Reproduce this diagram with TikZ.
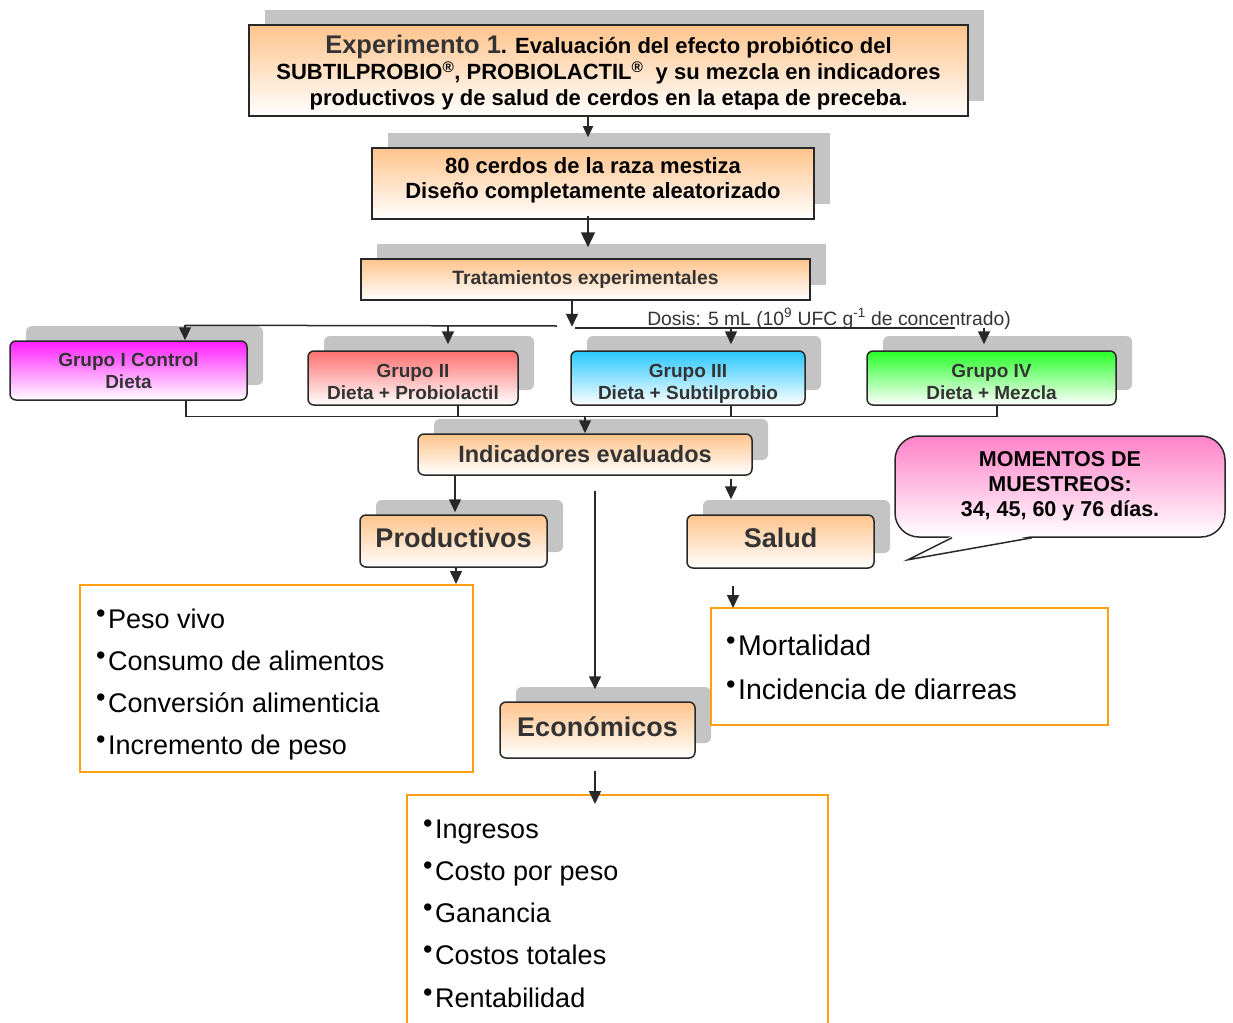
\documentclass[tikz,border=0pt]{standalone}
\usepackage{fontspec}
\setmainfont{Liberation Sans}
\usetikzlibrary{arrows.meta,shadows}
\definecolor{orgtop}{RGB}{255,196,140}
\definecolor{g1top}{RGB}{255,30,255}
\definecolor{g2top}{RGB}{255,112,112}
\definecolor{g3top}{RGB}{40,200,255}
\definecolor{g4top}{RGB}{40,255,40}
\definecolor{momtop}{RGB}{255,130,200}
\definecolor{shgray}{RGB}{196,196,196}
\definecolor{txt}{RGB}{51,51,51}
\definecolor{lorange}{RGB}{255,160,20}
\definecolor{lnc}{RGB}{40,40,40}
\newcommand\mybul{\makebox[12pt][l]{\raisebox{6pt}{\fontsize{27}{27}\selectfont •}}}
\tikzset{
  box/.style={draw=lnc, line width=1.5pt, top color=orgtop, bottom color=white,
    inner sep=0pt, align=center},
  sh/.style={general shadow={fill=shgray, shadow xshift=16pt, shadow yshift=15pt}},
  rbox/.style={box, rounded corners=6pt},
  lst/.style={draw=lorange, line width=2pt, inner sep=0pt},
  item/.style={anchor=base west, inner sep=0pt, font=\fontsize{27}{30}\selectfont},
  arr/.style={draw=lnc, line width=1.5pt, -{Triangle[length=13pt,width=12pt]}},
  arrbig/.style={draw=lnc, line width=1.5pt, -{Triangle[length=15pt,width=14pt]}},
  arrsm/.style={draw=lnc, line width=1.5pt, -{Triangle[length=11pt,width=10pt]}},
  ln/.style={draw=lnc, line width=1.5pt},
  grp/.style={rbox, sh, minimum height=54pt, text=txt,
    font=\fontsize{19}{22}\selectfont\bfseries},
  grplow/.style={grp, text height=42pt, text depth=0pt},
  big/.style={rbox, sh, text=txt, text height=20pt, text depth=8pt,
    font=\fontsize{27}{30}\selectfont\bfseries}
}
\begin{document}
\begin{tikzpicture}[x=1pt,y=-1pt]
\useasboundingbox (0,0) rectangle (1233,1022);
\clip (0,0) rectangle (1233,1022);
\fill[white] (0,0) rectangle (1233,1022);

% main boxes
\node[box, sh, minimum width=719pt, minimum height=91pt, text depth=0pt,
  font=\fontsize{22}{26}\selectfont\bfseries] (exp) at (608.5,70.5)
  {{\color{txt}\fontsize{25.5}{26}\selectfont Experimento 1}. Evaluación del efecto probiótico del\\
   SUBTILPROBIO\textsuperscript{®}, PROBIOLACTIL\textsuperscript{®}\ \ y su mezcla en indicadores\\
   productivos y de salud de cerdos en la etapa de preceba.};
\node[box, sh, minimum width=442pt, minimum height=71pt, text depth=10.5pt,
  font=\fontsize{22}{25}\selectfont\bfseries] (cer) at (593,183.5)
  {80 cerdos de la raza mestiza\\Diseño completamente aleatorizado};
\node[box, sh, minimum width=449pt, minimum height=41pt, text=txt,
  font=\fontsize{19.3}{22}\selectfont\bfseries] (tra) at (585.5,279.5)
  {Tratamientos experimentales};

% groups
\node[grp, minimum width=237pt, minimum height=59pt, top color=g1top] (g1) at (128.5,370.5)
  {Grupo I Control\\Dieta};
\node[grplow, minimum width=210pt, top color=g2top] (g2) at (413,378)
  {Grupo II\\Dieta + Probiolactil};
\node[grplow, minimum width=234pt, top color=g3top] (g3) at (688,378)
  {Grupo III\\Dieta + Subtilprobio};
\node[grplow, minimum width=249pt, top color=g4top] (g4) at (991.5,378)
  {Grupo IV\\Dieta + Mezcla};
\node[inner sep=0pt, text=txt, font=\fontsize{19.3}{21}\selectfont] (dos) at (829,319)
  {Dosis: 5 mL (10\textsuperscript{9} UFC g\textsuperscript{-1} de concentrado)};

% indicators
\node[rbox, sh, minimum width=334pt, minimum height=41pt, text=txt,
  font=\fontsize{23.5}{26}\selectfont\bfseries] (ind) at (585,454.5) {Indicadores evaluados};
\node[big, minimum width=187pt, minimum height=52pt] (pro) at (453.5,541) {Productivos};
\node[big, minimum width=187pt, minimum height=53pt] (sal) at (780.5,541.5) {Salud};
\node[big, minimum width=195pt, minimum height=56pt] (eco) at (597.5,730) {Económicos};

% callout
\node[draw=lnc, line width=1.5pt, rounded corners=24pt, top color=momtop, bottom color=white,
  minimum width=330pt, minimum height=101pt, inner sep=0pt, align=center,
  font=\fontsize{21.5}{25}\selectfont\bfseries] (mom) at (1060,486.5)
  {MOMENTOS DE\\MUESTREOS:\\ 34, 45, 60 y 76 días.};
\coordinate (tipL) at ([xshift=-108pt]mom.south);
\coordinate (tipR) at ([xshift=-28pt]mom.south);
\coordinate (tipP) at ([xshift=-152pt,yshift=-22pt]mom.south);
\fill[white] ([yshift=2pt]tipL) -- (tipP) -- ([yshift=2pt]tipR) -- cycle;
\draw[ln, line join=miter] (tipL) -- (tipP) -- (tipR);

% lists
\node[lst, minimum width=393pt, minimum height=187pt] (lpro) at (276.5,678.5) {};
\node[lst, minimum width=397pt, minimum height=117pt] (lsal) at (909.5,666.5) {};
\node[lst, minimum width=421pt, minimum height=245pt] (leco) at (617.5,917.5) {};

\node[item] (p1) at (96,628) {\mybul Peso vivo};
\node[item] (p2) at (96,670) {\mybul Consumo de alimentos};
\node[item] (p3) at (96,712) {\mybul Conversión alimenticia};
\node[item] (p4) at (96,754) {\mybul Incremento de peso};

\node[item, font=\fontsize{28.5}{30}\selectfont] (s1) at (726,655) {\mybul Mortalidad};
\node[item, font=\fontsize{28.5}{30}\selectfont] (s2) at (726,699) {\mybul Incidencia de diarreas};

\node[item] (e1) at (423,838) {\mybul Ingresos};
\node[item] (e2) at (423,880) {\mybul Costo por peso};
\node[item] (e3) at (423,922) {\mybul Ganancia};
\node[item] (e4) at (423,964) {\mybul Costos totales};
\node[item] (e5) at (423,1007) {\mybul Rentabilidad};

% connectors
\coordinate (ca) at ([xshift=-5pt,yshift=10pt]cer.north);
\draw[arrsm] (ca |- exp.south) -- (ca);
\coordinate (ta) at ([xshift=2.5pt,yshift=11pt]tra.north);
\draw[arrbig] ([yshift=4pt]ta |- cer.south) -- (ta);
\coordinate (sp) at ([xshift=-13.5pt,yshift=-26pt]tra.south);
\draw[arr] (sp |- tra.south) -- (sp);

\coordinate (bl) at ([xshift=56.5pt,yshift=15pt]g1.north);
\coordinate (br) at (557,326);
\draw[ln] (bl) -- (br);
\coordinate (dl) at (575,328);
\coordinate (dr) at (955,328);
\draw[ln] (dl) -- (dr);
\draw[arr] (bl) -- ([xshift=56.5pt]g1.north);
\coordinate (g2a) at ([xshift=35pt,yshift=6pt]g2.north);
\draw[arr] (g2a |- bl) -- (g2a);
\coordinate (g3a) at ([xshift=43pt,yshift=6pt]g3.north);
\draw[arr] (g3a |- dl) -- (g3a);
\coordinate (g4a) at ([xshift=-7.5pt,yshift=6pt]g4.north);
\draw[arr] (g4a |- dl) -- (g4a);

\coordinate (bus) at ([yshift=17pt]ind.north);
\draw[ln] ([xshift=57.5pt]g1.south) |- (bus);
\draw[ln] ([xshift=5.5pt]g4.south) |- (bus);
\draw[ln] ([xshift=45pt]g2.south) -- ([xshift=45pt]g2.south |- bus);
\draw[ln] ([xshift=43pt]g3.south) -- ([xshift=43pt]g3.south |- bus);
\draw[arr] (bus) -- (ind.north);

\coordinate (pa) at ([xshift=1.5pt,yshift=2pt]pro.north);
\draw[arr] (pa |- ind.south) -- (pa);
\coordinate (sa) at ([xshift=-49.5pt,yshift=15pt]sal.north);
\draw[arr] ([yshift=-3pt]sa |- ind.south) -- (sa);
\coordinate (ea) at ([xshift=-2.5pt,yshift=12pt]eco.north);
\coordinate (es) at (595,491);
\draw[arr] (es) -- (ea);

\coordinate (lpa) at ([xshift=-18pt]lpro.north east);
\draw[arr] (lpa |- pro.south) -- (lpa);
\coordinate (lsa) at ([xshift=23pt,yshift=-1pt]lsal.north west);
\draw[arr] ([yshift=22pt]lsa) -- (lsa);
\coordinate (lea) at ([xshift=-22.5pt,yshift=-10pt]leco.north);
\draw[arr] ([yshift=33pt]lea) -- (lea);
\end{tikzpicture}
\end{document}
